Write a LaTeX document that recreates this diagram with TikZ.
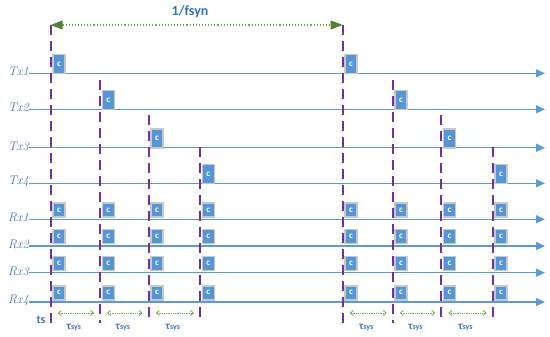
\documentclass[tikz,border=0pt]{standalone}
\usepackage{fontspec}
\newfontfamily\carl{Carlito}
\usetikzlibrary{arrows.meta,calc}
\definecolor{lineblue}{HTML}{5B9BD5}
\definecolor{boxblue}{HTML}{5596D6}
\definecolor{txtblue}{HTML}{4472C4}
\definecolor{headblue}{HTML}{2E75B6}
\definecolor{dpurple}{HTML}{7030A0}
\definecolor{dgreen}{HTML}{548235}
\definecolor{lgreen}{HTML}{70AD47}
\definecolor{boxgray}{HTML}{C8C8C8}
\tikzset{
  axis/.style={draw=lineblue, line width=1.3pt, -{Triangle[length=9pt,width=8pt]}},
  rowlabel/.style={anchor=east, inner sep=0pt, text=txtblue, font=\fontsize{12.5}{12.5}\selectfont\itshape},
  vdash/.style={draw=dpurple, line width=1.8pt, dash pattern=on 10pt off 6pt},
  txbox/.style={draw=boxgray, line width=1.4pt, fill=boxblue, minimum width=12pt, minimum height=19pt, inner sep=0pt, anchor=south west, text=white, font=\carl\bfseries\fontsize{9}{9}\selectfont},
  rxbox/.style={draw=boxgray, line width=1.4pt, fill=boxblue, minimum width=12pt, minimum height=14pt, inner sep=0pt, anchor=south west, text=white, font=\carl\bfseries\fontsize{9}{9}\selectfont},
  toparrow/.style={draw=lgreen, line width=1.1pt, dotted, {Triangle[length=12pt,width=9pt,color=dgreen]}-{Triangle[length=12pt,width=9pt,color=dgreen]}},
  tauarrow/.style={draw=lgreen, line width=0.8pt, densely dotted, {Straight Barb[length=3pt,width=5pt]}-{Straight Barb[length=3pt,width=5pt]}},
  taulabel/.style={text=txtblue, inner sep=0pt, font=\carl\bfseries},
}
\begin{document}
\begin{tikzpicture}[x=1pt,y=-1pt]
\useasboundingbox (0,0) rectangle (550,337);
% columns of sync lines
\foreach \i/\x/\ys in {1/50.7/25, 2/100/80, 3/148.7/115, 4/200/147, 5/342.7/25, 6/392.7/80, 7/441.3/115, 8/492.7/147}{
  \coordinate (t\i) at (\x,\ys);
  \coordinate (b\i) at (\x,323);
}
% rows
\foreach \n/\y in {Tx1/73.3, Tx2/109.3, Tx3/147.7, Tx4/183.3, Rx1/219.3, Rx2/246, Rx3/272.7, Rx4/302}{
  \coordinate (s\n) at (29,\y);
  \coordinate (e\n) at (545,\y);
  \draw[axis] (s\n) -- (e\n);
  \node[rowlabel] (l\n) at ([yshift=1.5pt]s\n) {\n};
}
% vertical dashed lines
\foreach \i in {1,...,8}{
  \draw[vdash] (t\i) -- (b\i);
}
% Tx boxes
\foreach \r/\a/\b in {1/1/5, 2/2/6, 3/3/7, 4/4/8}{
  \node[txbox] (txa\r) at ([xshift=1.5pt,yshift=-1pt]t\a |- sTx\r) {c};
  \node[txbox] (txb\r) at ([xshift=1.5pt,yshift=-1pt]t\b |- sTx\r) {c};
}
% Rx boxes
\foreach \r in {1,2,3,4}{
  \foreach \i in {1,...,8}{
    \node[rxbox] (rx\r c\i) at ([xshift=1.5pt,yshift=1.5pt]t\i |- sRx\r) {c};
  }
}
% top period arrow
\draw[toparrow] (t1) -- (t5);
\node[text=headblue, font=\carl\bfseries\fontsize{14}{14}\selectfont, inner sep=0pt] (fsyn) at (190,12) {1/fsyn};
% ts label
\node[text=txtblue, font=\carl\bfseries\fontsize{12}{12}\selectfont, inner sep=0pt] (ts) at (41,320) {ts};
% tau_sys arrows
\foreach \i/\j in {1/2, 2/3, 3/4, 5/6, 6/7, 7/8}{
  \coordinate (ta\i) at ([xshift=7pt]b\i |- 0,313);
  \coordinate (tb\i) at ([xshift=-6pt]b\j |- 0,313);
  \draw[tauarrow] (ta\i) -- (tb\i);
  \node[taulabel] (tau\i) at ([xshift=-2pt,yshift=-14pt]$(ta\i)!0.5!(tb\i)$) {\fontsize{11}{11}\selectfont τ\fontsize{8}{8}\selectfont sys};
}
\end{tikzpicture}
\end{document}
